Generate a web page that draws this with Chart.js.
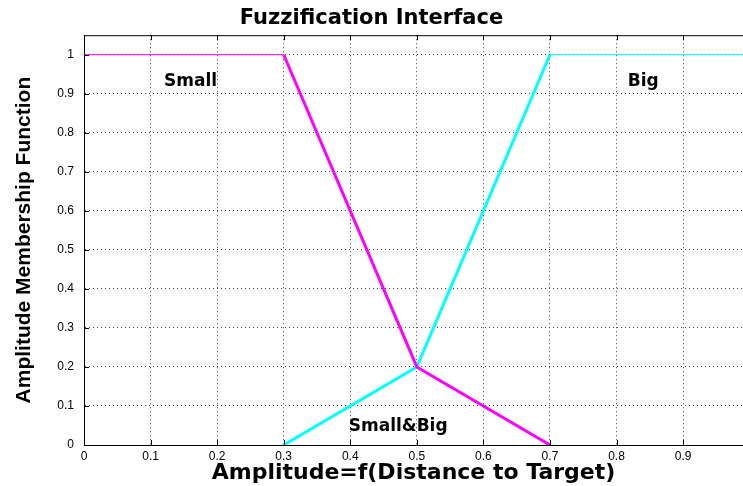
<!DOCTYPE html>
<html>
<head>
<meta charset="utf-8">
<title>Fuzzification Interface</title>
<script src="https://cdn.jsdelivr.net/npm/chart.js@4.4.1/dist/chart.umd.min.js"></script>
<style>
  html, body { margin: 0; padding: 0; background: #fff; overflow: hidden; }
  #wrap { width: 743px; height: 486px; }
</style>
</head>
<body>
<div id="wrap"><canvas id="fuzzyChart"></canvas></div>
<script>
// tick labels
const xTicks = [0, 0.1, 0.2, 0.3, 0.4, 0.5, 0.6, 0.7, 0.8, 0.9];
const yTicks = [0, 0.1, 0.2, 0.3, 0.4, 0.5, 0.6, 0.7, 0.8, 0.9, 1];

// membership functions
const smallX = [0, 0.3, 0.5, 0.7];
const smallY = [1, 1, 0.2, 0];
const bigX = [0.3, 0.5, 0.7, 1];
const bigY = [0, 0.2, 1, 1];

// text labels inside the plot (data coordinates)
const noteText = ['Small', 'Big', 'Small&Big'];
const noteX = [0.16, 0.84, 0.472];
const noteY = [0.93, 0.93, 0.046];

const toPoints = (xs, ys) => xs.map((x, i) => ({ x: x, y: ys[i] }));

// frame on top + inward tick marks + in-plot labels
const framePlugin = {
  id: 'frame',
  afterDatasetsDraw(chart) {
    const { ctx, chartArea, scales } = chart;
    const xs = scales.x, ys = scales.y;
    ctx.save();
    ctx.strokeStyle = '#000';
    ctx.lineWidth = 1;
    ctx.beginPath();
    ctx.moveTo(chartArea.left, chartArea.top + 0.5);
    ctx.lineTo(chartArea.right, chartArea.top + 0.5);
    xTicks.forEach(v => {
      const px = Math.round(xs.getPixelForValue(v)) + 0.5;
      ctx.moveTo(px, chartArea.bottom);
      ctx.lineTo(px, chartArea.bottom - 5);
      ctx.moveTo(px, chartArea.top);
      ctx.lineTo(px, chartArea.top + 5);
    });
    yTicks.forEach(v => {
      const py = Math.round(ys.getPixelForValue(v)) + 0.5;
      ctx.moveTo(chartArea.left, py);
      ctx.lineTo(chartArea.left + 5, py);
    });
    ctx.stroke();

    ctx.fillStyle = '#000';
    ctx.font = 'bold 17px "DejaVu Sans"';
    ctx.textAlign = 'center';
    ctx.textBaseline = 'middle';
    noteText.forEach((t, i) => {
      ctx.fillText(t, xs.getPixelForValue(noteX[i]), ys.getPixelForValue(noteY[i]));
    });
    ctx.restore();
  }
};

const ctx = document.getElementById('fuzzyChart').getContext('2d');
new Chart(ctx, {
  type: 'line',
  data: {
    datasets: [{
      label: 'Small',
      data: toPoints(smallX, smallY),
      borderColor: '#ff00ff',
      borderWidth: 3,
      pointRadius: 0,
      tension: 0,
      segment: { borderWidth: c => c.p0DataIndex === 0 ? 1 : 3 }
    }, {
      label: 'Big',
      data: toPoints(bigX, bigY),
      borderColor: '#00ffff',
      borderWidth: 3,
      pointRadius: 0,
      tension: 0,
      segment: { borderWidth: c => c.p0DataIndex === 2 ? 1 : 3 }
    }]
  },
  options: {
    responsive: true,
    maintainAspectRatio: false,
    animation: false,
    layout: { padding: 0 },
    plugins: {
      legend: { display: false },
      tooltip: { enabled: false },
      title: {
        display: true,
        text: 'Fuzzification Interface',
        color: '#000',
        font: { family: '"DejaVu Sans"', size: 21, weight: 'bold' },
        padding: { top: 6, bottom: 4 }
      }
    },
    scales: {
      x: {
        type: 'linear',
        min: 0,
        max: 0.99,
        afterBuildTicks: s => { s.ticks = xTicks.map(v => ({ value: v })); },
        afterFit: s => { s.height = 41; },
        ticks: {
          color: '#000',
          font: { family: '"Liberation Sans"', size: 12 },
          padding: 4,
          maxRotation: 0,
          callback: v => String(v)
        },
        grid: {
          drawTicks: false,
          color: c => c.tick && c.tick.value === 0 ? 'rgba(0,0,0,0)' : '#444'
        },
        border: { display: true, color: '#000', width: 1, dash: [1, 3] },
        title: {
          display: true,
          text: 'Amplitude=f(Distance to Target)',
          color: '#000',
          font: { family: '"DejaVu Sans"', size: 22, weight: 'bold' },
          padding: { top: 0, bottom: 0 }
        }
      },
      y: {
        type: 'linear',
        min: 0,
        max: 1.05,
        afterBuildTicks: s => { s.ticks = yTicks.map(v => ({ value: v })); },
        afterFit: s => { s.width = 84; },
        ticks: {
          color: '#000',
          font: { family: '"Liberation Sans"', size: 12 },
          padding: 10,
          callback: v => String(v)
        },
        grid: {
          drawTicks: false,
          color: c => c.tick && c.tick.value === 0 ? 'rgba(0,0,0,0)' : '#444'
        },
        border: { display: true, color: '#000', width: 1, dash: [1, 3] },
        title: {
          display: true,
          text: 'Amplitude Membership Function',
          color: '#000',
          font: { family: '"Liberation Sans"', size: 21, weight: 'bold' },
          padding: { top: 12, bottom: 0 }
        }
      }
    }
  },
  plugins: [framePlugin]
});
</script>
</body>
</html>
